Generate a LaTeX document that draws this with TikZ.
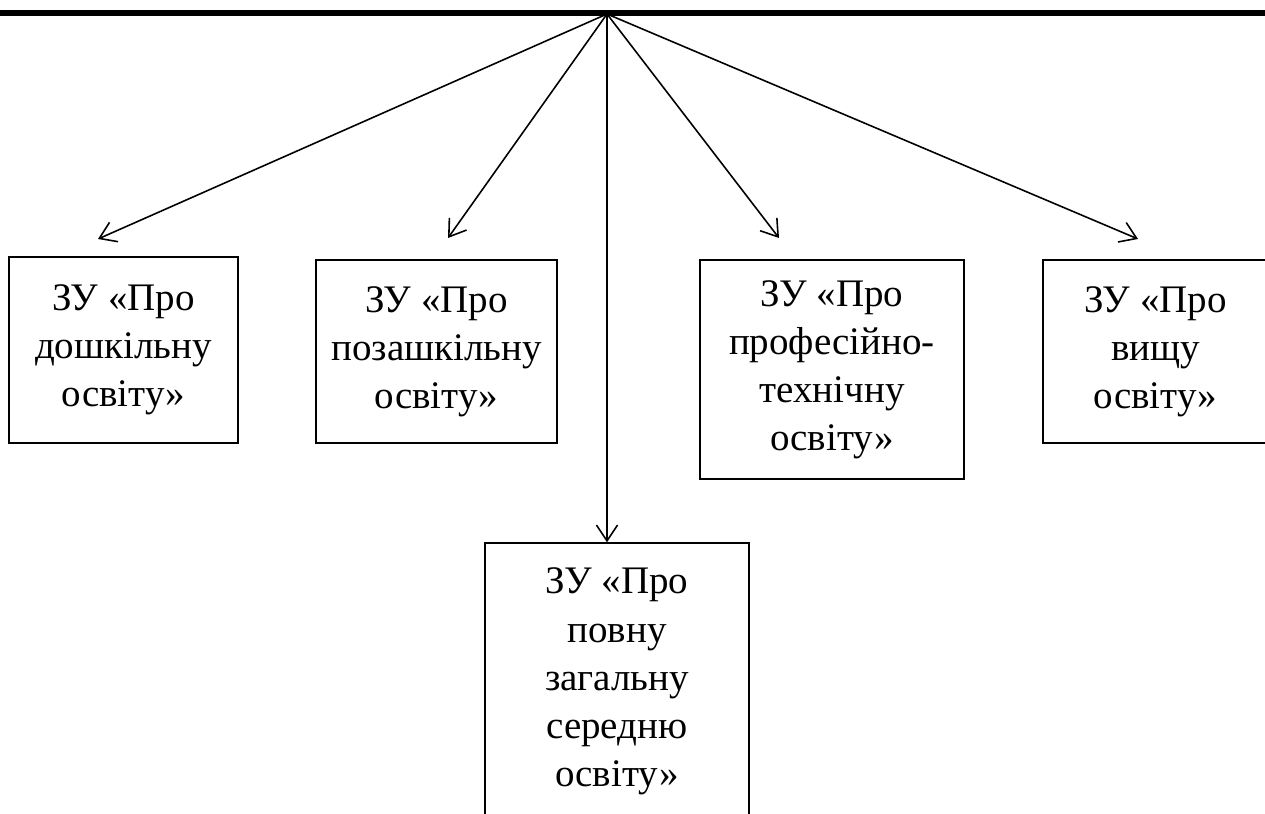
\documentclass[tikz,border=0pt]{standalone}
\usepackage{fontspec}
\setmainfont{Liberation Serif}
\usetikzlibrary{arrows.meta}

\begin{document}
\begin{tikzpicture}[x=0.02cm,y=-0.02cm,
    law/.style={draw, line width=0.8pt, align=center, inner sep=0pt,
        font=\fontsize{22.2}{27.4}\selectfont},
    link/.style={line width=0.9pt, -{Straight Barb[length=9pt,width=12pt]}}]

    \useasboundingbox (0,0) rectangle (1265,814);
    \clip (0,0) rectangle (1265,814);

    % this is the bar on top
    \coordinate (barL) at (0,13);
    \coordinate (barR) at (1265,13);
    \coordinate (top) at (607,14);
    \draw[line width=3pt] (barL) -- (barR);

    % these are the laws
    \node[law, minimum width=4.58cm, minimum height=3.72cm] (preschool) at (123.5,350)
        {ЗУ «Про\\дошкільну\\освіту»};
    \node[law, minimum width=4.82cm, minimum height=3.66cm] (outschool) at (436.5,351.5)
        {ЗУ «Про\\позашкільну\\освіту»};
    \node[law, minimum width=5.28cm, minimum height=5.54cm] (secondary) at (617,681.5)
        {ЗУ «Про\\повну\\загальну\\середню\\освіту»};
    \node[law, minimum width=5.28cm, minimum height=4.38cm] (vocational) at (832,369.5)
        {ЗУ «Про\\професійно-\\технічну\\освіту»};
    \node[law, minimum width=4.5cm, minimum height=3.66cm] (higher) at (1155.5,351.5)
        {ЗУ «Про\\вищу\\освіту»};

    % these are the arrow tips
    \coordinate (tipA) at (98,239);
    \coordinate (tipB) at (448,238);
    \coordinate (tipD) at (779,238);
    \coordinate (tipE) at (1138,239);

    \draw[link] (top) -- (tipA);
    \draw[link] (top) -- (tipB);
    \draw[link] (top) -- (top |- secondary.north);
    \draw[link] (top) -- (tipD);
    \draw[link] (top) -- (tipE);

\end{tikzpicture}
\end{document}
